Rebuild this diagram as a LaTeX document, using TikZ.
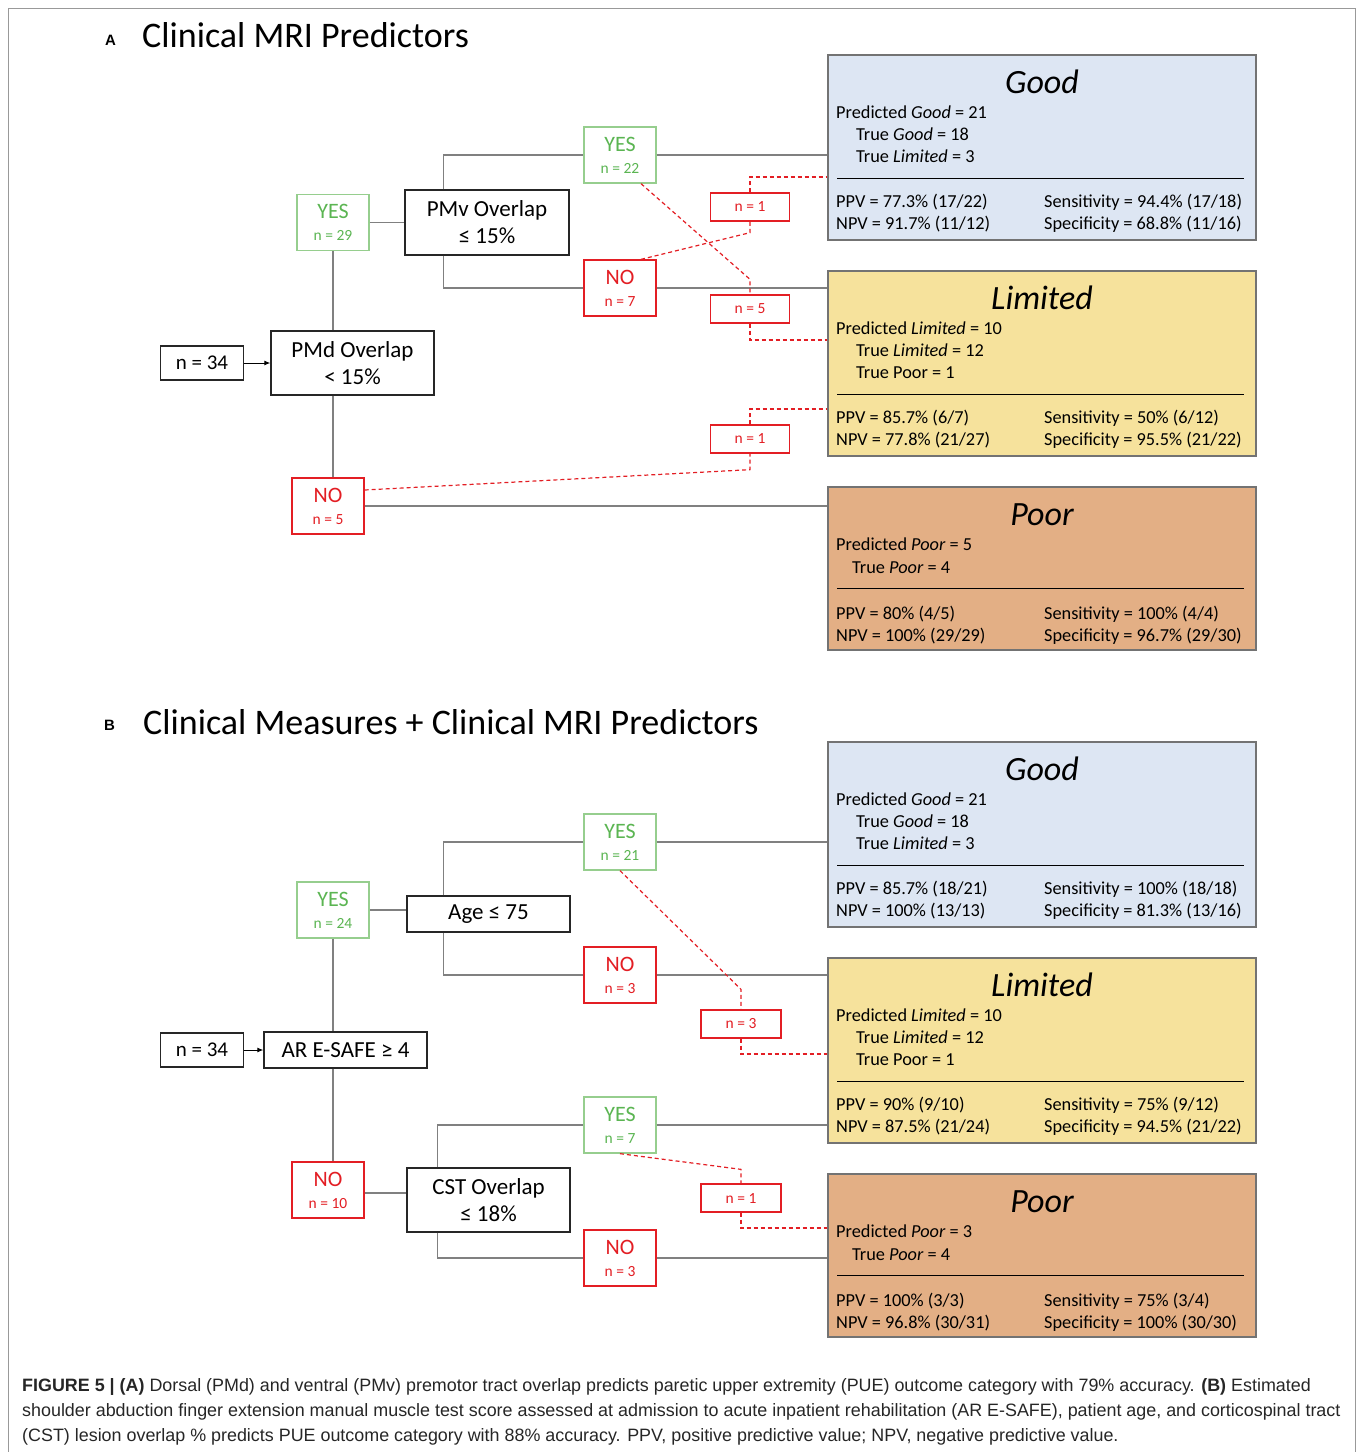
\documentclass[tikz,border=0pt]{standalone}
\usepackage{fontspec}
\setmainfont{Carlito}
\newfontfamily\capfont{Liberation Sans}
\usepackage{tikz}
\usetikzlibrary{arrows.meta,positioning}

\definecolor{goodfill}{HTML}{DDE6F3}
\definecolor{limfill}{HTML}{F6E29C}
\definecolor{poorfill}{HTML}{E3AF85}
\definecolor{yesgreen}{HTML}{5BB552}
\definecolor{yesedge}{HTML}{96CE8E}
\definecolor{nored}{HTML}{E31E24}
\definecolor{linkgray}{HTML}{808080}

\newcommand{\ynlab}[2]{#1\\{\fontsize{15.5}{15.5}\selectfont n = #2}}

\tikzset{
  cond/.style={draw=black!85,line width=1.3pt,fill=white,align=center,inner sep=0pt,font=\fontsize{23}{27}\selectfont},
  start/.style={cond,minimum width=83pt,minimum height=34pt,font=\fontsize{21}{21}\selectfont},
  yesbox/.style={draw=yesedge,line width=1.3pt,fill=white,text=yesgreen,align=center,inner sep=0pt,minimum width=72pt,minimum height=56pt,font=\fontsize{22}{22}\selectfont},
  nobox/.style={yesbox,draw=nored,text=nored},
  cross/.style={draw=nored,line width=1.3pt,fill=white,text=nored,inner sep=0pt,minimum width=79pt,minimum height=28pt,font=\fontsize{15.5}{15.5}\selectfont},
  outbox/.style={draw=black!55,line width=1.5pt,minimum width=428pt,inner sep=0pt},
  link/.style={linkgray,line width=1.2pt},
  xlink/.style={nored,line width=1.2pt,dash pattern=on 4pt off 3pt},
  ttl/.style={anchor=base,inner sep=0pt,font=\fontsize{34}{34}\selectfont\itshape},
  txt/.style={anchor=base west,inner sep=0pt,font=\fontsize{18.3}{22}\selectfont},
  head/.style={anchor=base west,inner sep=0pt,font=\fontsize{36}{36}\selectfont},
  letter/.style={anchor=base west,inner sep=0pt,font=\capfont\fontsize{15}{15}\selectfont\bfseries},
}

\begin{document}
\begin{tikzpicture}[x=1pt,y=-1pt]
\useasboundingbox (0,0) rectangle (1360,1452);
% frame
\draw[black!40,line width=1pt] (8,1460) -- (8,8) -- (1355,8) -- (1355,1460);

% Panel A heading
\node[letter] (letA) at (105,45) {A};
\node[head] (headA) at (142,47) {Clinical MRI Predictors};

% Panel A outcome boxes
\node[outbox,fill=goodfill,minimum height=185pt] (goodA) at (1042,147.5) {};
\node[outbox,fill=limfill,minimum height=185pt] (limA) at (1042,363.5) {};
\node[outbox,fill=poorfill,minimum height=163pt] (poorA) at (1042,568.5) {};

\begin{scope}[shift={(0,55)}]
\node[ttl] (goodAt) at (1042,38) {Good};
\node[txt] (goodA1) at (836,63) {Predicted \textit{Good} = 21};
\node[txt] (goodA2) at (856,85) {True \textit{Good} = 18};
\node[txt] (goodA3) at (856,107) {True \textit{Limited} = 3};
\draw[black,line width=1pt] (837,123) -- (1244,123);
\node[txt] (goodA4) at (836,152) {PPV = 77.3\% (17/22)};
\node[txt] (goodA5) at (836,174) {NPV = 91.7\% (11/12)};
\node[txt] (goodA6) at (1044,152) {Sensitivity = 94.4\% (17/18)};
\node[txt] (goodA7) at (1044,174) {Specificity = 68.8\% (11/16)};
\end{scope}

\begin{scope}[shift={(0,271)}]
\node[ttl] (limAt) at (1042,38) {Limited};
\node[txt] (limA1) at (836,63) {Predicted \textit{Limited} = 10};
\node[txt] (limA2) at (856,85) {True \textit{Limited} = 12};
\node[txt] (limA3) at (856,107) {True Poor = 1};
\draw[black,line width=1pt] (837,123) -- (1244,123);
\node[txt] (limA4) at (836,152) {PPV = 85.7\% (6/7)};
\node[txt] (limA5) at (836,174) {NPV = 77.8\% (21/27)};
\node[txt] (limA6) at (1044,152) {Sensitivity = 50\% (6/12)};
\node[txt] (limA7) at (1044,174) {Specificity = 95.5\% (21/22)};
\end{scope}

\begin{scope}[shift={(0,487)}]
\node[ttl] (poorAt) at (1042,38) {Poor};
\node[txt] (poorA1) at (836,63) {Predicted \textit{Poor} = 5};
\node[txt] (poorA2) at (852,86) {True \textit{Poor} = 4};
\draw[black,line width=1pt] (837,101) -- (1244,101);
\node[txt] (poorA4) at (836,132) {PPV = 80\% (4/5)};
\node[txt] (poorA5) at (836,154) {NPV = 100\% (29/29)};
\node[txt] (poorA6) at (1044,132) {Sensitivity = 100\% (4/4)};
\node[txt] (poorA7) at (1044,154) {Specificity = 96.7\% (29/30)};
\end{scope}

% Panel A tree
\node[start] (n34A) at (202,363) {n = 34};
\node[cond,minimum width=163pt,minimum height=64pt] (pmdA) at (352.5,363) {PMd Overlap\\< 15\%};
\node[yesbox] (yes29) at (333,222.5) {\ynlab{YES}{29}};
\node[cond,minimum width=164pt,minimum height=65pt] (pmvA) at (487,222.5) {PMv Overlap\\≤ 15\%};
\node[yesbox] (yes22) at (620,155) {\ynlab{YES}{22}};
\node[nobox] (no7) at (620,288) {\ynlab{NO}{7}};
\node[nobox] (no5) at (328,506) {\ynlab{NO}{5}};
\node[cross] (n1A) at (750,207) {n = 1};
\node[cross] (n5A) at (750,309) {n = 5};
\node[cross] (n1Ab) at (750,439) {n = 1};

\draw[-{Latex[length=6pt,width=5pt]},black,line width=1pt] (n34A) -- (pmdA);
\draw[link] (yes29) -- (yes29 |- pmdA.north);
\draw[link] (yes29) -- (pmvA);
\draw[link] ([xshift=39pt]pmvA.north west) |- (yes22);
\draw[link] (yes22) -- (yes22 -| goodA.west);
\draw[link] ([xshift=39pt]pmvA.south west) |- (no7);
\draw[link] (no7) -- (no7 -| limA.west);
\draw[link] (yes29 |- pmdA.south) -- (yes29 |- no5.north);
\draw[link] (no5) -- (no5 -| poorA.west);

% misclassified
\draw[xlink] ([xshift=21pt]yes22.south) -- ([yshift=15pt]n5A.north) -- (n5A.north);
\draw[xlink] (n5A.south) |- ([yshift=23.5pt]limA.west);
\draw[xlink] ([xshift=21pt]no7.north) -- ([yshift=-11pt]n1A.south) -- (n1A.south);
\draw[xlink] (n1A.north) |- ([yshift=-29.5pt]goodA.west);
\draw[xlink] ([yshift=16pt]no5.east) -- ([yshift=-16pt]n1Ab.south) -- (n1Ab.south);
\draw[xlink] (n1Ab.north) |- ([yshift=-45.5pt]limA.west);

% Panel B heading
\node[letter] (letB) at (104,730) {B};
\node[head] (headB) at (143,734) {Clinical Measures + Clinical MRI Predictors};

% Panel B outcome boxes
\node[outbox,fill=goodfill,minimum height=185pt] (goodB) at (1042,834.5) {};
\node[outbox,fill=limfill,minimum height=185pt] (limB) at (1042,1050.5) {};
\node[outbox,fill=poorfill,minimum height=163pt] (poorB) at (1042,1255.5) {};

\begin{scope}[shift={(0,742)}]
\node[ttl] (goodBt) at (1042,38) {Good};
\node[txt] (goodB1) at (836,63) {Predicted \textit{Good} = 21};
\node[txt] (goodB2) at (856,85) {True \textit{Good} = 18};
\node[txt] (goodB3) at (856,107) {True \textit{Limited} = 3};
\draw[black,line width=1pt] (837,123) -- (1244,123);
\node[txt] (goodB4) at (836,152) {PPV = 85.7\% (18/21)};
\node[txt] (goodB5) at (836,174) {NPV = 100\% (13/13)};
\node[txt] (goodB6) at (1044,152) {Sensitivity = 100\% (18/18)};
\node[txt] (goodB7) at (1044,174) {Specificity = 81.3\% (13/16)};
\end{scope}

\begin{scope}[shift={(0,958)}]
\node[ttl] (limBt) at (1042,38) {Limited};
\node[txt] (limB1) at (836,63) {Predicted \textit{Limited} = 10};
\node[txt] (limB2) at (856,85) {True \textit{Limited} = 12};
\node[txt] (limB3) at (856,107) {True Poor = 1};
\draw[black,line width=1pt] (837,123) -- (1244,123);
\node[txt] (limB4) at (836,152) {PPV = 90\% (9/10)};
\node[txt] (limB5) at (836,174) {NPV = 87.5\% (21/24)};
\node[txt] (limB6) at (1044,152) {Sensitivity = 75\% (9/12)};
\node[txt] (limB7) at (1044,174) {Specificity = 94.5\% (21/22)};
\end{scope}

\begin{scope}[shift={(0,1174)}]
\node[ttl] (poorBt) at (1042,38) {Poor};
\node[txt] (poorB1) at (836,63) {Predicted \textit{Poor} = 3};
\node[txt] (poorB2) at (852,86) {True \textit{Poor} = 4};
\draw[black,line width=1pt] (837,101) -- (1244,101);
\node[txt] (poorB4) at (836,132) {PPV = 100\% (3/3)};
\node[txt] (poorB5) at (836,154) {NPV = 96.8\% (30/31)};
\node[txt] (poorB6) at (1044,132) {Sensitivity = 75\% (3/4)};
\node[txt] (poorB7) at (1044,154) {Specificity = 100\% (30/30)};
\end{scope}

% Panel B tree
\node[start] (n34B) at (202,1050) {n = 34};
\node[cond,minimum width=163pt,minimum height=36pt] (esafe) at (345.5,1050) {AR E-SAFE ≥ 4};
\node[yesbox] (yes24) at (333,910) {\ynlab{YES}{24}};
\node[cond,minimum width=163pt,minimum height=36pt] (age) at (488.5,914) {Age ≤ 75};
\node[yesbox] (yes21) at (620,842) {\ynlab{YES}{21}};
\node[nobox] (no3a) at (620,975) {\ynlab{NO}{3}};
\node[nobox] (no10) at (328,1190) {\ynlab{NO}{10}};
\node[cond,minimum width=163pt,minimum height=64pt] (cst) at (488.5,1200) {CST Overlap\\≤ 18\%};
\node[yesbox] (yes7) at (620,1125) {\ynlab{YES}{7}};
\node[nobox] (no3b) at (620,1258) {\ynlab{NO}{3}};
\node[cross,minimum width=80pt] (n3B) at (741,1024) {n = 3};
\node[cross,minimum width=80pt] (n1B) at (741,1198) {n = 1};

\draw[-{Latex[length=6pt,width=5pt]},black,line width=1pt] (n34B) -- (esafe);
\draw[link] (yes24) -- (yes24 |- esafe.north);
\draw[link] (yes24) -- (yes24 -| age.west);
\draw[link] ([xshift=37pt]age.north west) |- (yes21);
\draw[link] (yes21) -- (yes21 -| goodB.west);
\draw[link] ([xshift=37pt]age.south west) |- (no3a);
\draw[link] (no3a) -- (no3a -| limB.west);
\draw[link] (yes24 |- esafe.south) -- (yes24 |- no10.north);
\draw[link] ([yshift=-3pt]no10.east) -- ([yshift=-3pt]no10.east -| cst.west);
\draw[link] ([xshift=31pt]cst.north west) |- (yes7);
\draw[link] (yes7) -- (yes7 -| limB.west);
\draw[link] ([xshift=31pt]cst.south west) |- (no3b);
\draw[link] (no3b) -- (no3b -| poorB.west);

% misclassified
\draw[xlink] (yes21.south) -- ([yshift=20pt]n3B.north) -- (n3B.north);
\draw[xlink] (n3B.south) |- ([yshift=-3.5pt]limB.west);
\draw[xlink] (yes7.south) -- ([yshift=14pt]n1B.north) -- (n1B.north);
\draw[xlink] (n1B.south) |- ([yshift=27.5pt]poorB.west);

% caption
\node[anchor=north west,inner sep=0pt,align=left,text=black!85,font=\capfont\fontsize{17.9}{25}\selectfont] (caption) at (22,1378)
 {\textbf{FIGURE 5 | (A)} Dorsal (PMd) and ventral (PMv) premotor tract overlap predicts paretic upper extremity (PUE) outcome category with 79\% accuracy. \textbf{(B)} Estimated\\
 shoulder abduction finger extension manual muscle test score assessed at admission to acute inpatient rehabilitation (AR E-SAFE), patient age, and corticospinal tract\\
 (CST) lesion overlap \% predicts PUE outcome category with 88\% accuracy. PPV, positive predictive value; NPV, negative predictive value.};
\end{tikzpicture}
\end{document}
